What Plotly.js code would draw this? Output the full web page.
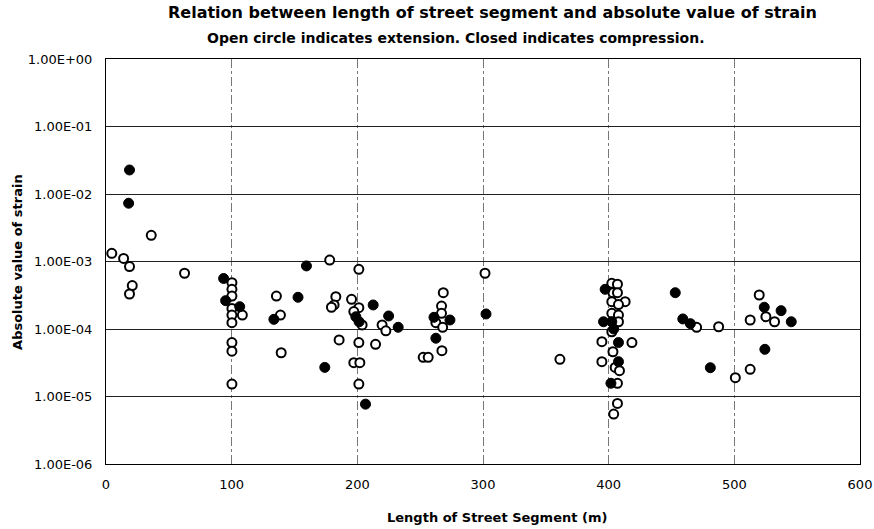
<!DOCTYPE html>
<html>
<head>
<meta charset="utf-8">
<script src="https://cdn.plot.ly/plotly-3.0.1.min.js"></script>
<style>html,body{margin:0;padding:0;background:#fff;}#chart{width:874px;height:529px;}</style>
</head>
<body>
<div id="chart"></div>
<script>
// Extension (open circles)
var extX = [4.6, 14, 18.7, 20.9, 18.7, 36, 62.5,
  100.2, 100.2, 100.2, 100.2, 108.5, 100.2, 100.2, 100.2, 100.2, 100.2,
  135.6, 138.8, 139.4, 178, 201.2, 182.9, 181.5, 179.4, 195.4, 201.2, 197.2, 203.8,
  219.7, 222.7, 185.5, 201.2, 214.5, 197.2, 202, 201.2,
  268.4, 267, 267, 262.5, 267.9, 267.3, 252.4, 256.4, 301.6, 361.2,
  402.5, 407, 403.4, 407, 402.5, 413.1, 407.8, 402.5, 407.8, 407.8, 402.5, 394.6,
  418.5, 403.4, 394.6, 405.2, 408.6, 407, 407, 404,
  470, 487.5, 500.8, 512.6, 512.6, 519.8, 525.1, 532];
var extY = [1.32e-3, 1.11e-3, 8.4e-4, 4.4e-4, 3.3e-4, 2.44e-3, 6.7e-4,
  4.85e-4, 3.87e-4, 3.08e-4, 2.02e-4, 1.61e-4, 1.61e-4, 1.24e-4, 6.3e-5, 4.7e-5, 1.53e-5,
  3.08e-4, 1.61e-4, 4.45e-5, 1.05e-3, 7.66e-4, 3.01e-4, 2.27e-4, 2.1e-4, 2.75e-4, 2.07e-4, 1.81e-4, 1.15e-4,
  1.15e-4, 9.4e-5, 6.9e-5, 6.3e-5, 5.93e-5, 3.17e-5, 3.17e-5, 1.53e-5,
  3.45e-4, 2.19e-4, 1.71e-4, 1.24e-4, 1.06e-4, 4.77e-5, 3.81e-5, 3.81e-5, 6.7e-4, 3.56e-5,
  4.75e-4, 4.6e-4, 3.45e-4, 3.45e-4, 2.54e-4, 2.54e-4, 2.3e-4, 1.71e-4, 1.61e-4, 1.28e-4, 9.1e-5, 6.5e-5,
  6.3e-5, 4.6e-5, 3.28e-5, 2.7e-5, 2.41e-5, 1.57e-5, 7.9e-6, 5.5e-6,
  1.06e-4, 1.08e-4, 1.9e-5, 2.53e-5, 1.36e-4, 3.19e-4, 1.52e-4, 1.28e-4];
// Compression (closed circles)
var compX = [18.7, 18, 93.6, 95.2, 106.4, 133.6, 152.8, 159.5, 174.1, 198.8, 201.4, 212.6, 224.9, 232.5, 206.5,
  261, 273.7, 262.5, 302.4, 397.2, 395.9, 402.5, 404, 407.8, 407.8, 401.8,
  453, 459, 465, 480.9, 523.8, 537.2, 545.3, 524.3];
var compY = [2.27e-2, 7.3e-3, 5.6e-4, 2.63e-4, 2.14e-4, 1.39e-4, 2.95e-4, 8.6e-4, 2.7e-5, 1.52e-4, 1.28e-4, 2.27e-4, 1.56e-4, 1.06e-4, 7.7e-6,
  1.49e-4, 1.36e-4, 7.3e-5, 1.67e-4, 3.87e-4, 1.28e-4, 1.28e-4, 1.0e-4, 6.3e-5, 3.28e-5, 1.57e-5,
  3.45e-4, 1.41e-4, 1.2e-4, 2.67e-5, 2.1e-4, 1.87e-4, 1.28e-4, 5.0e-5];
var yTickVals = [1e-6, 1e-5, 1e-4, 1e-3, 1e-2, 1e-1, 1];
var yTickText = ["1.00E-06", "1.00E-05", "1.00E-04", "1.00E-03", "1.00E-02", "1.00E-01", "1.00E+00"];
var xTickVals = [0, 100, 200, 300, 400, 500, 600];

var FONT = "DejaVu Sans, Liberation Sans, Arial, sans-serif";

var traces = [
  {x: extX, y: extY, type: "scatter", mode: "markers", name: "Extension",
   marker: {symbol: "circle", size: 9, color: "#ffffff", line: {color: "#000000", width: 2}}},
  {x: compX, y: compY, type: "scatter", mode: "markers", name: "Compression",
   marker: {symbol: "circle", size: 10, color: "#000000", line: {color: "#000000", width: 1}}}
];

var layout = {
  width: 874, height: 529,
  margin: {l: 106, r: 14, t: 59, b: 65},
  paper_bgcolor: "#ffffff", plot_bgcolor: "#ffffff",
  showlegend: false,
  font: {family: FONT, color: "#000000"},
  xaxis: {
    range: [0, 600], tickvals: xTickVals, ticktext: xTickVals.map(String),
    showgrid: true, gridcolor: "#777777", gridwidth: 1, griddash: "dashdot",
    showline: true, linecolor: "#000000", linewidth: 1, mirror: true,
    ticks: "", ticklabelstandoff: 8, zeroline: false,
    tickfont: {family: FONT, size: 13, color: "#000000"}
  },
  yaxis: {
    type: "log", range: [-6, 0], tickvals: yTickVals, ticktext: yTickText,
    showgrid: true, gridcolor: "#222222", gridwidth: 1,
    showline: true, linecolor: "#000000", linewidth: 1, mirror: true,
    ticks: "", ticklabelstandoff: 10, zeroline: false,
    tickfont: {family: FONT, size: 13, color: "#000000"}
  },
  annotations: [
    {text: "<b>Relation between length of street segment and absolute value of strain</b>",
     xref: "paper", yref: "paper", x: 0.512, y: 1.116, xanchor: "center", yanchor: "middle",
     showarrow: false, font: {family: FONT, size: 16, color: "#000000"}},
    {text: "<b>Open circle indicates extension. Closed indicates compression.</b>",
     xref: "paper", yref: "paper", x: 0.464, y: 1.052, xanchor: "center", yanchor: "middle",
     showarrow: false, font: {family: FONT, size: 14, color: "#000000"}},
    {text: "<b>Length of Street Segment (m)</b>",
     xref: "paper", yref: "paper", x: 0.519, y: -0.133, xanchor: "center", yanchor: "middle",
     showarrow: false, font: {family: FONT, size: 13, color: "#000000"}},
    {text: "<b>Absolute value of strain</b>",
     xref: "paper", yref: "paper", x: -0.1167, y: 0.499, xanchor: "center", yanchor: "middle",
     textangle: -90, showarrow: false, font: {family: FONT, size: 13, color: "#000000"}}
  ]
};

Plotly.newPlot("chart", traces, layout, {displayModeBar: false, staticPlot: true});
</script>
</body>
</html>
